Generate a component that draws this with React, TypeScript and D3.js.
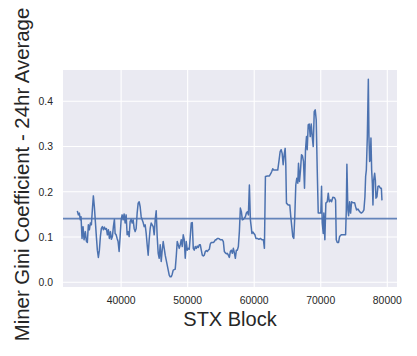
import React from "react";
import * as d3 from "d3";

const blocks: number[] = [
  33418, 33569, 33720, 33870, 33976, 34126, 34277, 34427, 34623, 34774, 34924, 35075, 35226, 35376, 35527, 35677, 35828, 35979, 36129, 36280, 36430, 36581, 36732, 36882, 37033, 37183, 37334, 37485, 37635, 37786, 37936, 38087, 38238, 38388, 38539, 38689, 38840, 38991, 39096,
  39247, 39397, 39548, 39699, 39849, 40000, 40151, 40301, 40452, 40602, 40753, 40904, 41054, 41205, 41355, 41506, 41657, 41807, 41958, 42108, 42259, 42409, 42560, 42711, 42861, 43012, 43162, 43313, 43464, 43614, 43765, 43915, 44066, 44217, 44367, 44518, 44668, 44819, 44970, 45120, 45271, 45421, 45572,
  45723, 45873, 46024, 46174, 46325, 46476, 46626, 46777, 46927, 47078, 47229, 47379, 47530, 47680, 47831, 47982, 48132, 48283, 48433, 48584, 48735, 48885, 49036, 49186, 49337, 49488, 49638, 49789, 49939, 50090, 50241, 50391, 50542, 50692, 50843, 50994, 51144, 51295, 51445, 51596, 51747, 51897, 52048, 52198,
  52349, 52500, 52650, 52801, 52951, 53102, 53253, 53403, 53554, 53704, 53855, 54006, 54156, 54307, 54457, 54608, 54759, 54909, 55060, 55210, 55361, 55512, 55662, 55813, 55963, 56114, 56265, 56415, 56566, 56716, 56867, 57018, 57168, 57319, 57469, 57620, 57771, 57921, 58072, 58222, 58373, 58524,
  58674, 58825, 58975, 59126, 59277, 59427, 59548, 59653, 59804, 59955, 60105, 60256, 60480, 60706, 60933, 61159, 61383, 61534, 61686, 61987, 62288, 62484, 62635, 62785, 62936, 63192, 63539, 63749, 63900, 64051, 64201, 64352, 64503, 64653, 64744, 64849,
  65105, 65346, 65497, 65648, 65798, 65949, 66099, 66250, 66401, 66551, 66657, 66807, 66957, 67108, 67258, 67409, 67560, 67710, 67861, 67966, 68117, 68267, 68418, 68568, 68719, 68870, 69020, 69171, 69321, 69472, 69623, 69818, 70014, 70120, 70225, 70376, 70466, 70617, 70767, 70978, 71128, 71279, 71475,
  71625, 71821, 72077, 72228, 72333, 72484, 72680, 72830, 73086, 73327, 73583, 73734, 73839, 73930, 74080, 74186, 74336, 74487, 74638, 74834, 75089, 75240, 75391, 75587, 75842, 76098, 76339, 76490, 76641, 76746, 76852, 77002, 77153, 77243, 77349, 77454, 77544, 77650, 77755, 77846, 77951, 78101, 78207, 78297, 78448, 78598, 78749, 78960, 79110, 79200,
];

const gini: number[] = [
  0.158, 0.149, 0.153, 0.138, 0.145, 0.097, 0.123, 0.094, 0.112, 0.091, 0.088, 0.127, 0.116, 0.131, 0.127, 0.160, 0.191, 0.167, 0.134, 0.101, 0.071, 0.055, 0.071, 0.101, 0.119, 0.123, 0.116, 0.122, 0.117, 0.119, 0.105, 0.116, 0.097, 0.112, 0.095, 0.101, 0.123, 0.139, 0.108,
  0.105, 0.097, 0.090, 0.068, 0.101, 0.138, 0.149, 0.138, 0.151, 0.131, 0.149, 0.105, 0.112, 0.101, 0.134, 0.139, 0.131, 0.138, 0.119, 0.112, 0.119, 0.153, 0.175, 0.178, 0.167, 0.145, 0.138, 0.132, 0.123, 0.127, 0.108, 0.083, 0.060, 0.094, 0.119, 0.131, 0.127, 0.123, 0.105, 0.138, 0.158, 0.101, 0.064,
  0.053, 0.083, 0.046, 0.071, 0.090, 0.075, 0.060, 0.049, 0.038, 0.027, 0.016, 0.012, 0.012, 0.018, 0.027, 0.028, 0.029, 0.057, 0.090, 0.083, 0.075, 0.083, 0.094, 0.079, 0.105, 0.094, 0.053, 0.090, 0.071, 0.075, 0.073, 0.101, 0.131, 0.132, 0.075, 0.071, 0.079, 0.075, 0.080, 0.077, 0.083, 0.083, 0.071, 0.060,
  0.058, 0.060, 0.068, 0.070, 0.068, 0.071, 0.073, 0.085, 0.088, 0.088, 0.088, 0.090, 0.094, 0.094, 0.097, 0.097, 0.096, 0.094, 0.094, 0.094, 0.090, 0.068, 0.065, 0.063, 0.064, 0.060, 0.055, 0.068, 0.071, 0.064, 0.075, 0.065, 0.053, 0.071, 0.071, 0.079, 0.112, 0.164, 0.156, 0.138, 0.139, 0.142,
  0.145, 0.153, 0.156, 0.149, 0.215, 0.138, 0.123, 0.108, 0.111, 0.108, 0.105, 0.097, 0.097, 0.095, 0.097, 0.094, 0.094, 0.075, 0.234, 0.235, 0.235, 0.240, 0.245, 0.251, 0.248, 0.248, 0.248, 0.271, 0.289, 0.293, 0.285, 0.260, 0.282, 0.296, 0.263, 0.175,
  0.171, 0.171, 0.145, 0.123, 0.101, 0.097, 0.145, 0.215, 0.230, 0.219, 0.263, 0.223, 0.248, 0.282, 0.279, 0.267, 0.208, 0.293, 0.322, 0.293, 0.348, 0.350, 0.322, 0.350, 0.322, 0.300, 0.377, 0.381, 0.359, 0.248, 0.153, 0.153, 0.153, 0.212, 0.131, 0.108, 0.153, 0.094, 0.175, 0.178, 0.197, 0.178, 0.182,
  0.178, 0.188, 0.187, 0.182, 0.094, 0.088, 0.088, 0.101, 0.105, 0.105, 0.105, 0.105, 0.160, 0.261, 0.160, 0.147, 0.178, 0.153, 0.178, 0.176, 0.176, 0.167, 0.160, 0.162, 0.156, 0.153, 0.156, 0.160, 0.189, 0.234, 0.248, 0.322, 0.449, 0.322, 0.267, 0.271, 0.319, 0.248, 0.219, 0.171, 0.226, 0.241, 0.226, 0.186, 0.189, 0.212, 0.213, 0.208, 0.208, 0.181,
];

const meanGini = 0.1407;
const xTicks: number[] = [40000, 50000, 60000, 70000, 80000];
const yTicks: number[] = [0.0, 0.1, 0.2, 0.3, 0.4];
const xLabel = "STX Block";
const yLabel = "Miner Gini Coefficient - 24hr Average";

const W = 417;
const H = 356;
const left = 63;
const right = 397;
const top = 70;
const bottom = 287;
const lineColor = "#4c72b0";
const font = "'Liberation Sans', Arial, Helvetica, sans-serif";

export default function App() {
  const x = d3.scaleLinear().domain([31265, 81460]).range([left, right]);
  const y = d3.scaleLinear().domain([-0.0104, 0.4692]).range([bottom, top]);
  const pts = blocks.map((b, i) => [b, gini[i]] as [number, number]);
  const line = d3
    .line<[number, number]>()
    .x((d) => x(d[0]))
    .y((d) => y(d[1]));
  const path = line(pts) || "";

  return (
    <svg
      width={W}
      height={H}
      style={{ position: "absolute", left: 0, top: 0, background: "#fff" }}
    >
      <rect x={left} y={top} width={right - left} height={bottom - top} fill="#eaeaf2" />
      {xTicks.map((t) => (
        <line key={"gx" + t} x1={x(t)} x2={x(t)} y1={top} y2={bottom} stroke="#fff" strokeWidth={1.1} />
      ))}
      {yTicks.map((t) => (
        <line key={"gy" + t} x1={left} x2={right} y1={y(t)} y2={y(t)} stroke="#fff" strokeWidth={1.1} />
      ))}
      <path d={path} fill="none" stroke={lineColor} strokeWidth={1.5} strokeLinejoin="round" />
      <line
        x1={left}
        x2={right}
        y1={y(meanGini)}
        y2={y(meanGini)}
        stroke={lineColor}
        strokeWidth={1.8}
        strokeOpacity={0.85}
      />
      {xTicks.map((t) => (
        <text
          key={"tx" + t}
          x={x(t)}
          y={303.5}
          textAnchor="middle"
          fontFamily={font}
          fontSize={10.4}
          fill="#262626"
        >
          {d3.format("d")(t)}
        </text>
      ))}
      {yTicks.map((t) => (
        <text
          key={"ty" + t}
          x={53}
          y={y(t) + 3.8}
          textAnchor="end"
          fontFamily={font}
          fontSize={10.4}
          fill="#262626"
        >
          {d3.format(".1f")(t)}
        </text>
      ))}
      <text
        x={(left + right) / 2}
        y={326}
        textAnchor="middle"
        fontFamily={font}
        fontSize={20}
        fill="#262626"
      >
        {xLabel}
      </text>
      <text
        transform={`translate(29, ${(top + bottom) / 2 - 4}) rotate(-90)`}
        textAnchor="middle"
        fontFamily={font}
        fontSize={20.4}
        fill="#262626"
      >
        {yLabel}
      </text>
    </svg>
  );
}
